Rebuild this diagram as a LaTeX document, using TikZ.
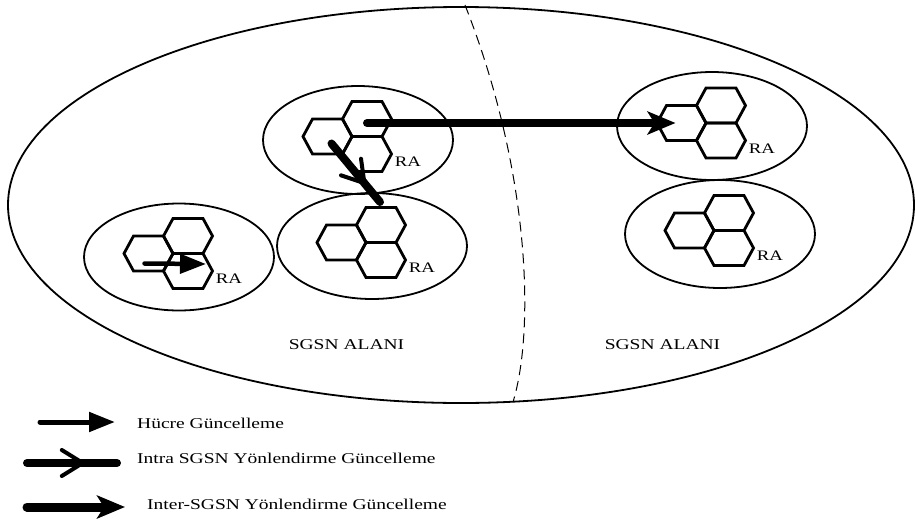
\documentclass[tikz,border=0pt]{standalone}
\usepackage{fontspec}
\newfontfamily\lblfont[FakeStretch=1.3]{Liberation Serif}
\usetikzlibrary{arrows.meta,shapes.geometric,decorations.markings,calc}

\begin{document}
\begin{tikzpicture}[x=1pt,y=-1pt,
  zone/.style={draw, ellipse, line width=1.8pt, inner sep=0pt},
  hexline/.style={line width=2.8pt, line join=miter},
  lbl/.style={font={\lblfont\fontsize{15}{18}\selectfont}, inner sep=0pt},
  ralabel/.style={font={\lblfont\fontsize{14.5}{16}\selectfont}, inner sep=0pt},
  cellarrow/.style={line width=#1, line cap=round, -{Triangle[length=26pt,width=19pt]}},
  interarrow/.style={line width=#1, line cap=round, -{Stealth[length=28pt,width=23pt,inset=7pt]}},
  intraarrow/.style={line width=8pt, line cap=round, postaction={decorate},
    decoration={markings, mark=at position #1 with {
      \draw[line width=4pt, line cap=round, line join=round]
        (-21pt,13pt) -- (0pt,0pt) -- (-21pt,-13pt);}}},
  hexcell/.pic={
    \draw[hexline] (-24.5,0) -- (-15,-17.5) -- (15,-17.5) -- (24.5,0)
      -- (15,17.5) -- (-15,17.5) -- cycle;},
  racluster/.pic={
    \coordinate (-top) at (0,0);
    \coordinate (-left) at (-39.5,17.5);
    \coordinate (-bottom) at (0,35);
    \pic at (0,0) {hexcell};
    \pic at (-39.5,17.5) {hexcell};
    \pic at (0,35) {hexcell};
    \node[ralabel] (-ra) at (41,43) {RA};
  }
]
\fill[white] (0,0) rectangle (915,525);
\useasboundingbox (0,0) rectangle (915,525);

% service area and the SGSN boundary
\node[zone, minimum width=906pt, minimum height=396pt] (area) at (461,205) {};
\draw[line width=1pt, dash pattern=on 10pt off 6pt]
  (465,5) .. controls (530,170) and (535,330) .. (513,402);

% routing areas
\node[zone, minimum width=190pt, minimum height=108pt] (z1) at (358,140) {};
\node[zone, minimum width=190pt, minimum height=107pt] (z2) at (179,257) {};
\node[zone, minimum width=190pt, minimum height=106pt] (z3) at (372,246) {};
\node[zone, minimum width=190pt, minimum height=108pt] (z4) at (712,126) {};
\node[zone, minimum width=190pt, minimum height=108pt] (z5) at (720,234) {};

% cell clusters
\pic (c1) at (367,119) {racluster};
\pic (c2) at (188,236) {racluster};
\pic (c3) at (381,225) {racluster};
\pic (c4) at (721,105.5) {racluster};
\pic (c5) at (729,213) {racluster};

% area labels
\node[lbl] (sg1) at (346.5,345) {SGSN ALANI};
\node[lbl] (sg2) at (662.5,345) {SGSN ALANI};

% updates
\draw[cellarrow=4.5pt] ($(c2-left)+(-4,10)$) -- ($(c2-bottom)+(18,-7)$);
\draw[intraarrow=0.68] ($(c1-left)+(4,7)$) -- ($(c3-top)+(-1,-23)$);
\draw[interarrow=8pt] ($(c1-top)+(0,4)$) -- ($(c4-left)+(-6,0)$);

% legend
\coordinate (k1a) at (40,422);
\coordinate (k1b) at (115,422);
\coordinate (k2a) at (27,463);
\coordinate (k2b) at (117,463);
\coordinate (k3a) at (27,507);
\coordinate (k3b) at (125,507);
\draw[cellarrow=5pt] (k1a) -- (k1b);
\draw[intraarrow=0.62] (k2a) -- (k2b);
\draw[interarrow=9pt] (k3a) -- (k3b);
\node[lbl, anchor=base west] (t1) at (137,428) {Hücre Güncelleme};
\node[lbl, anchor=base west] (t2) at (137,463) {Intra SGSN Yönlendirme Güncelleme};
\node[lbl, anchor=base west] (t3) at (147,509) {Inter-SGSN Yönlendirme Güncelleme};
\end{tikzpicture}
\end{document}
